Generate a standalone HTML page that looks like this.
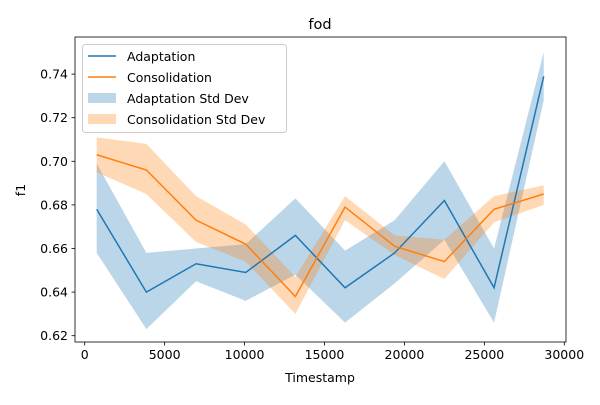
<!DOCTYPE html>
<html><head><meta charset="utf-8"><style>
body{margin:0;background:#fff;}
text{font-family:"DejaVu Sans","Liberation Sans",sans-serif;fill:#000;}
</style></head><body>
<svg id="c" width="600" height="400" xmlns="http://www.w3.org/2000/svg"></svg>
<script>
const timestamps=[750,3857,6964,10071,13178,16285,19392,22499,25606,28713];
const adaptation=[0.678,0.640,0.653,0.649,0.666,0.642,0.658,0.682,0.642,0.739];
const adaptLow=[0.658,0.623,0.645,0.636,0.648,0.626,0.644,0.664,0.626,0.728];
const adaptHigh=[0.699,0.658,0.660,0.662,0.683,0.659,0.673,0.700,0.660,0.750];
const consolidation=[0.703,0.696,0.673,0.662,0.638,0.679,0.661,0.654,0.678,0.685];
const consLow=[0.695,0.685,0.663,0.654,0.630,0.673,0.657,0.646,0.672,0.680];
const consHigh=[0.711,0.708,0.684,0.671,0.647,0.684,0.666,0.664,0.684,0.689];
const xTicks=[0,5000,10000,15000,20000,25000,30000];
const yTicks=[0.62,0.64,0.66,0.68,0.70,0.72,0.74];

const L=75,R=566,T=37,B=342;
const X=v=>84.7+v/30000*479.6;
const Y=v=>335.7-(v-0.62)/0.02*43.6;
const svg=document.getElementById('c');
const NS='http://www.w3.org/2000/svg';
function mk(tag,attrs,parent){const e=document.createElementNS(NS,tag);for(const k in attrs)e.setAttribute(k,attrs[k]);(parent||svg).appendChild(e);return e;}

function band(lo,hi,color,name){
  let d='M'+timestamps.map((t,i)=>X(t)+','+Y(hi[i])).join('L');
  d+='L'+timestamps.map((t,i)=>X(t)+','+Y(lo[i])).reverse().join('L')+'Z';
  const p=mk('path',{d:d,fill:color,'fill-opacity':0.3,stroke:'none'});
  
  
}
function line(vals,color,name){
  const p=mk('polyline',{points:timestamps.map((t,i)=>X(t)+','+Y(vals[i])).join(' '),fill:'none',stroke:color,'stroke-width':1.5});
  
  
}
band(adaptLow,adaptHigh,'#1f77b4','adaptation-std-band');
band(consLow,consHigh,'#ff7f0e','consolidation-std-band');
line(adaptation,'#1f77b4','adaptation-line');
line(consolidation,'#ff7f0e','consolidation-line');

const frame=mk('rect',{x:L,y:T,width:R-L,height:B-T,fill:'none',stroke:'#000','stroke-width':0.8});



xTicks.forEach(t=>{
  mk('line',{x1:X(t),x2:X(t),y1:B,y2:B+3.5,stroke:'#000','stroke-width':0.8});
  const tx=mk('text',{x:X(t),y:B+17,'font-size':12.5,'text-anchor':'middle'});
  tx.textContent=t;
  
  
});
yTicks.forEach(t=>{
  mk('line',{x1:L,x2:L-3.5,y1:Y(t),y2:Y(t),stroke:'#000','stroke-width':0.8});
  const tx=mk('text',{x:L-7,y:Y(t)+4.5,'font-size':12.5,'text-anchor':'end'});
  tx.textContent=t.toFixed(2);
  
  
});
</script>
<svg width="600" height="400" style="position:absolute;left:0;top:0" xmlns="http://www.w3.org/2000/svg">
<text x="320" y="29" font-size="14.5" text-anchor="middle">fod</text>
<text x="320" y="382" font-size="12.5" text-anchor="middle">Timestamp</text>
<text x="25" y="190" font-size="12.5" text-anchor="middle" transform="rotate(-90 25 190)">f1</text>
<g>
<rect x="82.5" y="44.5" width="204" height="88" rx="3" fill="#fff" fill-opacity="0.8" stroke="#ccc"/>
<line x1="88" x2="116" y1="56" y2="56" stroke="#1f77b4" stroke-width="1.5"/>
<text x="127" y="61" font-size="12.5">Adaptation</text>
<line x1="88" x2="116" y1="77" y2="77" stroke="#ff7f0e" stroke-width="1.5"/>
<text x="127" y="82" font-size="12.5">Consolidation</text>
<rect x="88" y="93" width="28" height="10" fill="#1f77b4" fill-opacity="0.3"/>
<text x="127" y="103" font-size="12.5">Adaptation Std Dev</text>
<rect x="88" y="114" width="28" height="10" fill="#ff7f0e" fill-opacity="0.3"/>
<text x="127" y="124" font-size="12.5">Consolidation Std Dev</text>
</g>
</svg>
</body></html>
